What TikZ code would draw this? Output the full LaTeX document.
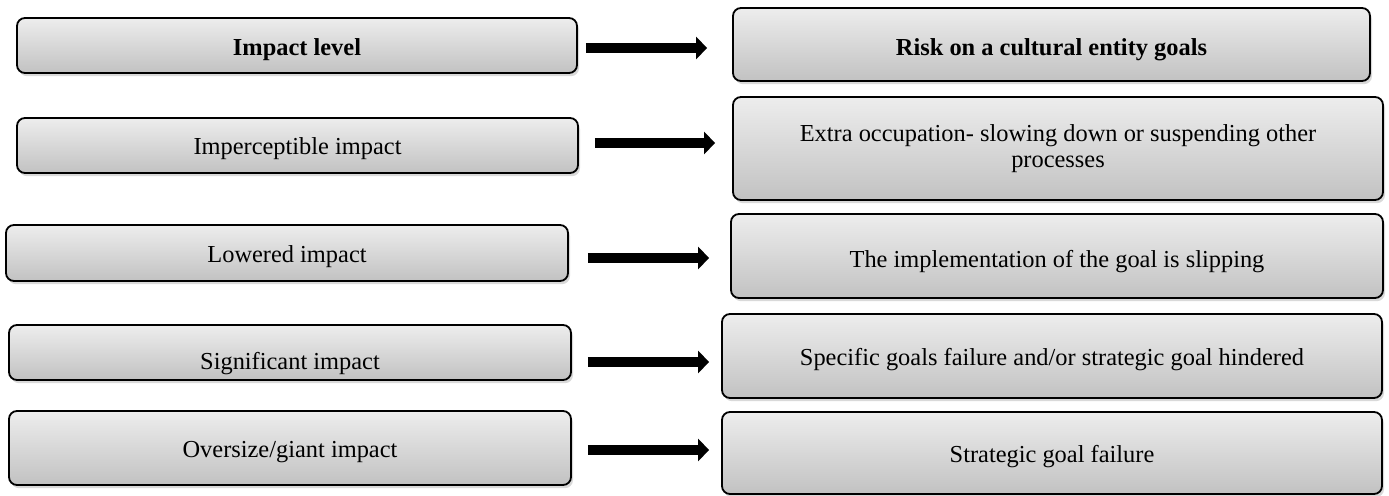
\documentclass[tikz,border=0pt]{standalone}
\usepackage{fontspec}
\setmainfont{Liberation Serif}
\usetikzlibrary{arrows.meta, shadows}
\tikzstyle{plainbox} = [rectangle, rounded corners=4pt, text centered, draw=black, line width=0.9pt, top color=gray!14, bottom color=gray!48, drop shadow={shadow xshift=1pt, shadow yshift=-1.6pt, opacity=0.3}, font=\fontsize{12.2}{13}\selectfont]
\tikzstyle{impactbox} = [plainbox, text height=11pt, text depth=1pt]
\tikzstyle{riskbox} = [impactbox]
\tikzstyle{bigarrow} = [line width=4.6pt, -{Triangle[length=5.5pt, width=11pt]}]

\begin{document}
\begin{tikzpicture}[x=0.5pt, y=-0.5pt]
\useasboundingbox (0,0) rectangle (1389,496);

\node (0) [impactbox, minimum width=280pt, minimum height=27.5pt, text height=11.5pt] at (297,45.5) {\textbf{Impact level}};
\node (1) [impactbox, minimum width=280.5pt, minimum height=27.5pt, text height=10.5pt] at (297.5,145.5) {Imperceptible impact};
\node (2) [impactbox, minimum width=281pt, minimum height=28pt] at (287,253) {Lowered impact};
\node (3) [impactbox, minimum width=281pt, minimum height=27.5pt, text height=18pt] at (290,352.5) {Significant impact};
\node (4) [impactbox, minimum width=281pt, minimum height=37pt] at (290,448) {Oversize/giant impact};

\node (5) [riskbox, minimum width=318.5pt, minimum height=36.5pt, text height=12.5pt] at (1051.5,44.5) {\textbf{Risk on a cultural entity goals}};
\node (6) [plainbox, align=center, minimum width=325pt, minimum height=51.5pt] at (1058,148.5) {Extra occupation- slowing down or suspending other\\processes};
\node (7) [riskbox, minimum width=326pt, minimum height=42pt, text height=13pt] at (1057,256) {The implementation of the goal is slipping};
\node (8) [riskbox, minimum width=330pt, minimum height=42pt] at (1052,356) {Specific goals failure and/or strategic goal hindered};
\node (9) [riskbox, minimum width=330pt, minimum height=41pt] at (1052,453) {Strategic goal failure};

\draw [bigarrow, shorten <=4pt, shorten >=12.5pt] ([yshift=-1.25pt]0.east) -- ([yshift=-1.75pt]5.west);
\draw [bigarrow, shorten <=8pt, shorten >=8.5pt] ([yshift=1.25pt]1.east) -- ([yshift=2.75pt]6.west);
\draw [bigarrow, shorten <=9.5pt, shorten >=10.5pt] ([yshift=-2.5pt]2.east) -- ([yshift=-1pt]7.west);
\draw [bigarrow, shorten <=8pt, shorten >=6pt] ([yshift=-4.75pt]3.east) -- ([yshift=-3pt]8.west);
\draw [bigarrow, shorten <=8pt, shorten >=6pt] ([yshift=-1pt]4.east) -- ([yshift=1.5pt]9.west);

\end{tikzpicture}
\end{document}
